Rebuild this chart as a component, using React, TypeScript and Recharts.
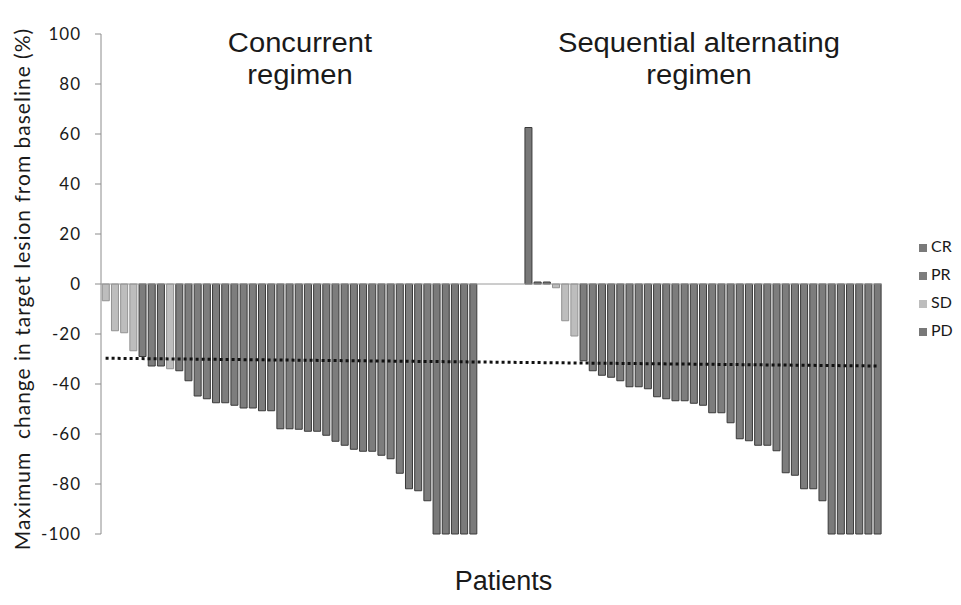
import { BarChart, Bar, XAxis, YAxis, Legend, ReferenceLine } from 'recharts';

// Maximum change (%) per patient
const concurrentChange = [
  -6.7, -18.7, -19.5, -26.7, -29, -32.8, -32.8, -33.9, -34.7, -38.7,
  -44.8, -45.9, -47.5, -47.5, -48.5, -49.6, -49.6, -50.7, -50.7, -57.9,
  -57.9, -58.1, -58.9, -58.9, -60.5, -62.9, -64.5, -66.1, -66.9, -66.9,
  -68.5, -69.9, -75.7, -81.9, -82.7, -86.7, -100, -100, -100, -100, -100,
];
const concurrentResponse = [
  'SD', 'SD', 'SD', 'SD', 'PR', 'PR', 'PR', 'SD', 'PR', 'PR',
  'PR', 'PR', 'PR', 'PR', 'PR', 'PR', 'PR', 'PR', 'PR', 'PR',
  'PR', 'PR', 'PR', 'PR', 'PR', 'PR', 'PR', 'PR', 'PR', 'PR',
  'PR', 'PR', 'PR', 'PR', 'PR', 'PR', 'CR', 'CR', 'CR', 'CR', 'CR',
];
const gapSlots = 5;
const sequentialChange = [
  62.6, 0.8, 0.8, -1.5, -14.7, -20.8, -30.7, -34.7, -36.5, -37.3,
  -38.7, -41.1, -41.1, -41.9, -45.1, -45.9, -46.7, -46.7, -47.7, -48.5,
  -51.5, -51.5, -55.5, -61.9, -62.7, -64.5, -64.5, -66.7, -75.5, -76.5,
  -81.9, -81.9, -86.7, -100, -100, -100, -100, -100, -100,
];
const sequentialResponse = [
  'PD', 'PD', 'PD', 'SD', 'SD', 'SD', 'PR', 'PR', 'PR', 'PR',
  'PR', 'PR', 'PR', 'PR', 'PR', 'PR', 'PR', 'PR', 'PR', 'PR',
  'PR', 'PR', 'PR', 'PR', 'PR', 'PR', 'PR', 'PR', 'PR', 'PR',
  'PR', 'PR', 'PR', 'CR', 'CR', 'CR', 'CR', 'CR', 'CR',
];
const responseTypes = ['CR', 'PR', 'SD', 'PD'];
const yTicks = [-100, -80, -60, -40, -20, 0, 20, 40, 60, 80, 100];
const cutoffStart = -29.7;
const cutoffEnd = -32.8;
const yLabelText = 'Maximum  change in target lesion from baseline (%)';

const fills: Record<string, string> = { CR: '#7a7a7a', PR: '#7d7d7d', SD: '#bdbdbd', PD: '#787878' };
const strokes: Record<string, string> = { CR: '#3a3a3a', PR: '#3a3a3a', SD: '#929292', PD: '#3a3a3a' };

function makeRow(slot: number, value: number, response: string | null) {
  const row: Record<string, number> = { slot };
  responseTypes.forEach((t) => {
    row[t] = t === response ? value : 0;
  });
  return row;
}

const rows: Record<string, number>[] = [];
concurrentChange.forEach((v, i) => rows.push(makeRow(rows.length + 1, v, concurrentResponse[i])));
for (let i = 0; i < gapSlots; i++) rows.push(makeRow(rows.length + 1, 0, null));
sequentialChange.forEach((v, i) => rows.push(makeRow(rows.length + 1, v, sequentialResponse[i])));

const titleStyle: React.CSSProperties = {
  position: 'absolute',
  top: 19,
  transform: 'translateX(-50%) scaleX(1.08)',
  fontFamily: '"Liberation Sans", Arial, sans-serif',
  fontSize: 27,
  lineHeight: '32px',
  color: '#1a1a1a',
  textAlign: 'center',
  whiteSpace: 'nowrap',
};

// rotated axis title, placed a bit lower than the axis centre like the original
function YLabel({ viewBox }: { viewBox?: { x: number; y: number; width: number; height: number } }) {
  if (!viewBox) return null;
  const cx = 13;
  const cy = viewBox.y + viewBox.height / 2 + 5;
  return (
    <text
      x={cx}
      y={cy}
      transform={`rotate(-90, ${cx}, ${cy})`}
      textAnchor="middle"
      dominantBaseline="central"
      fontSize={21}
      letterSpacing={1}
      fill="#1a1a1a"
      fontFamily="Lato"
      style={{ whiteSpace: 'pre' }}
    >
      {yLabelText}
    </text>
  );
}

export default function App() {
  return (
    <div style={{ position: 'relative', width: 945, height: 588 }}>
      <BarChart
        width={945}
        height={588}
        data={rows}
        stackOffset="sign"
        barCategoryGap="14%"
        margin={{ top: 26, right: 71, left: 0, bottom: 2 }}
      >
        <XAxis
          dataKey="slot"
          tick={false}
          tickLine={false}
          axisLine={false}
          height={60}
          label={{
            value: 'Patients',
            position: 'insideBottom',
            offset: 4,
            dx: 12,
            style: { fontSize: 27, fill: '#1a1a1a', fontFamily: '"Liberation Sans", Arial, sans-serif' },
          }}
        />
        <YAxis
          domain={[-100, 100]}
          ticks={yTicks}
          interval={0}
          width={93}
          axisLine={{ stroke: '#8c8c8c' }}
          tickLine={{ stroke: '#8c8c8c' }}
          tickSize={6}
          tickMargin={14}
          tick={{ fontSize: 17, fill: '#1a1a1a', fontFamily: 'Lato', letterSpacing: 1 }}
          label={<YLabel />}
        />
        <ReferenceLine y={0} stroke="#9a9a9a" strokeWidth={1} />
        {responseTypes.map((t) => (
          <Bar
            key={t}
            dataKey={t}
            stackId="resp"
            fill={fills[t]}
            stroke={strokes[t]}
            strokeWidth={1}
            isAnimationActive={false}
          />
        ))}
        <ReferenceLine
          segment={[
            { x: 1, y: cutoffStart },
            { x: rows.length, y: cutoffEnd },
          ]}
          stroke="#111"
          strokeWidth={3}
          strokeDasharray="3 3"
        />
        <Legend
          layout="vertical"
          align="center"
          verticalAlign="middle"
          iconType="square"
          iconSize={8}
          itemSorter={(item: { value: string }) => responseTypes.indexOf(item.value)}
          wrapperStyle={{ left: 911, top: 224, lineHeight: '27px', whiteSpace: 'nowrap' }}
          formatter={(value: string) => (
            <span style={{ color: '#1a1a1a', fontSize: 16, fontFamily: 'Lato' }}>{value}</span>
          )}
        />
      </BarChart>
      <div style={{ ...titleStyle, left: 292 }}>
        Concurrent
        <br />
        regimen
      </div>
      <div style={{ ...titleStyle, left: 691 }}>
        Sequential alternating
        <br />
        regimen
      </div>
    </div>
  );
}
